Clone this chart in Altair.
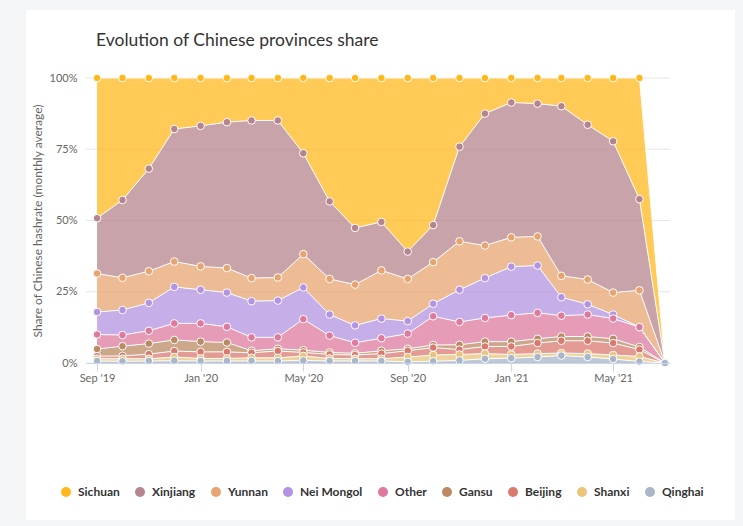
import altair as alt
import pandas as pd

# Monthly share of Chinese hashrate by province (percentage points, each month sums to 100)
months = [
    "2019-09-01", "2019-10-01", "2019-11-01", "2019-12-01", "2020-01-01", "2020-02-01",
    "2020-03-01", "2020-04-01", "2020-05-01", "2020-06-01", "2020-07-01", "2020-08-01",
    "2020-09-01", "2020-10-01", "2020-11-01", "2020-12-01", "2021-01-01", "2021-02-01",
    "2021-03-01", "2021-04-01", "2021-05-01", "2021-06-01", "2021-07-01",
]

sichuan = [49.2, 42.8, 31.8, 17.9, 16.8, 15.5, 14.9, 14.9, 26.4, 43.3, 52.6, 50.5,
           60.9, 51.6, 24.1, 12.5, 8.6, 9.0, 9.9, 16.4, 22.2, 42.5, 0]
xinjiang = [19.4, 27.3, 36.0, 46.5, 49.3, 51.2, 55.3, 55.1, 35.4, 27.2, 19.9, 17.0,
            9.6, 13.0, 33.2, 46.3, 47.3, 46.6, 59.5, 54.3, 53.1, 32.0, 0]
yunnan = [13.5, 11.3, 11.1, 8.9, 8.2, 8.6, 8.1, 8.1, 11.7, 12.5, 14.3, 16.9,
          14.8, 14.6, 17.0, 11.4, 10.3, 10.2, 7.5, 8.7, 7.7, 12.9, 0]
nei_mongol = [7.9, 8.8, 9.8, 12.8, 11.8, 12.0, 12.7, 12.9, 11.1, 7.4, 6.1, 6.9,
              4.4, 4.4, 11.3, 14.0, 17.0, 16.6, 6.5, 3.6, 1.4, 0.0, 0]
other = [5.1, 3.9, 4.5, 5.8, 6.4, 5.5, 4.7, 4.0, 10.9, 5.9, 3.7, 4.4,
         5.3, 10.1, 8.0, 8.3, 9.3, 9.1, 7.3, 7.7, 7.1, 7.0, 0]
gansu = [2.5, 3.4, 3.7, 3.9, 3.6, 3.3, 0.7, 0.8, 0.8, 0.7, 0.6, 1.0,
         0.7, 0.9, 1.7, 1.7, 1.7, 1.5, 1.5, 1.5, 1.5, 0.9, 0]
beijing = [0.9, 1.0, 1.6, 2.1, 2.3, 2.3, 1.8, 2.4, 1.2, 1.4, 1.3, 1.8,
           2.2, 2.6, 1.7, 2.5, 2.8, 3.7, 4.3, 4.5, 4.2, 2.4, 0]
shanxi = [0.8, 0.9, 0.8, 1.3, 0.9, 0.9, 1.1, 1.1, 1.6, 0.9, 0.8, 0.8,
          1.7, 2.2, 2.1, 1.8, 1.3, 1.2, 0.9, 1.2, 1.4, 1.8, 0]
qinghai = [0.7, 0.6, 0.7, 0.8, 0.7, 0.7, 0.7, 0.7, 0.9, 0.7, 0.7, 0.7,
           0.4, 0.6, 0.9, 1.5, 1.7, 2.1, 2.6, 2.1, 1.4, 0.5, 0]

provinces = ["Sichuan", "Xinjiang", "Yunnan", "Nei Mongol", "Other",
             "Gansu", "Beijing", "Shanxi", "Qinghai"]
series = [sichuan, xinjiang, yunnan, nei_mongol, other, gansu, beijing, shanxi, qinghai]
colors = ["#FFB81C", "#B6848E", "#E7A470", "#B393E2", "#DE7A9E",
          "#BB8A63", "#DA7A6F", "#EAC479", "#A9B5C8"]

title_text = "Evolution of Chinese provinces share"
y_title = "Share of Chinese hashrate (monthly average)"
y_ticks = [0, 25, 50, 75, 100]
x_ticks = ["2019-09-01", "2020-01-01", "2020-05-01", "2020-09-01", "2021-01-01", "2021-05-01"]

rows = []
for idx, (name, values) in enumerate(zip(provinces, series)):
    for m, v in zip(months, values):
        # Qinghai sits at the bottom of the stack, Sichuan at the top
        rows.append({"month": m, "province": name, "share": v,
                     "stack_order": len(provinces) - 1 - idx})
df = pd.DataFrame(rows)


def utc_date(s):
    y, m, d = (int(p) for p in s.split("-"))
    return alt.DateTime(year=y, month=m, date=d, utc=True)


x_enc = alt.X(
    "month:T",
    scale=alt.Scale(type="utc", domain=[utc_date("2019-08-19"), utc_date("2021-07-07")]),
    axis=alt.Axis(values=[utc_date(t) for t in x_ticks], format="%b '%y", title=None,
                  grid=False, domainColor="#CCD6EB", tickColor="#CCD6EB", tickSize=8,
                  labelPadding=1, labelFont="Lato", labelFontSize=11, labelColor="#666666",
                  zindex=1),
)
y_axis = alt.Axis(values=y_ticks, labelExpr="datum.value + '%'", grid=False,
                  domain=False, ticks=False, labelPadding=9,
                  labelFont="Lato", labelFontSize=11, labelColor="#666666",
                  title=y_title, titleFont="Lato", titleFontSize=12,
                  titleFontWeight="normal", titleColor="#666666", titleX=-49,
                  titleY=142.5, titleAngle=270, titleAlign="center",
                  titleBaseline="middle", zindex=1)
y_scale = alt.Scale(domain=[0, 100], nice=False)

color_enc = alt.Color(
    "province:N",
    scale=alt.Scale(domain=provinces, range=colors),
    legend=alt.Legend(title=None, orient="none", direction="horizontal",
                      legendX=-26, legendY=408, symbolType="circle", symbolSize=100,
                      symbolOpacity=1, symbolStrokeWidth=0, labelFont="Lato",
                      labelFontSize=12, labelFontWeight="bold", labelColor="#333333",
                      labelOffset=6, columnPadding=14, padding=0),
)

stacked = alt.Chart(df).transform_stack(
    stack="share", as_=["y0", "y1"], groupby=["month"],
    sort=[alt.SortField("stack_order", order="ascending")],
)

# white card behind the chart
card = alt.Chart(pd.DataFrame({"k": [0]})).mark_rect(color="white").encode(
    x=alt.value(-60), x2=alt.value(649), y=alt.value(-68), y2=alt.value(442)
)

heading = alt.Chart(pd.DataFrame({"t": [title_text]})).mark_text(
    align="left", baseline="alphabetic", font="Lato", fontSize=17.5, color="#333333"
).encode(x=alt.value(10), y=alt.value(-32), text="t:N")

gridlines = alt.Chart(pd.DataFrame({"v": y_ticks})).mark_rule(
    color="#E6E6E6", strokeWidth=1
).encode(y=alt.Y("v:Q", scale=y_scale, axis=y_axis))

area = stacked.mark_area(opacity=0.75).encode(
    x=x_enc,
    y=alt.Y("y1:Q", scale=y_scale, axis=y_axis),
    y2="y0:Q",
    color=color_enc,
)

edges = stacked.mark_line(color="white", strokeWidth=1).encode(
    x=x_enc,
    y=alt.Y("y1:Q", scale=y_scale, axis=y_axis),
    detail="province:N",
)

dots = stacked.mark_circle(size=58, opacity=1, stroke="white", strokeWidth=1).encode(
    x=x_enc,
    y=alt.Y("y1:Q", scale=y_scale, axis=y_axis),
    color=color_enc,
)

chart = alt.layer(card, heading, gridlines, area, edges, dots).properties(
    width=584,
    height=285,
    autosize=alt.AutoSizeParams(type="none"),
    padding={"left": 86, "top": 78, "right": 73, "bottom": 163},
    background="#F4F5F7",
).configure_view(stroke=None)

chart.save("out.html", embed_options={"renderer": "svg", "actions": False})
